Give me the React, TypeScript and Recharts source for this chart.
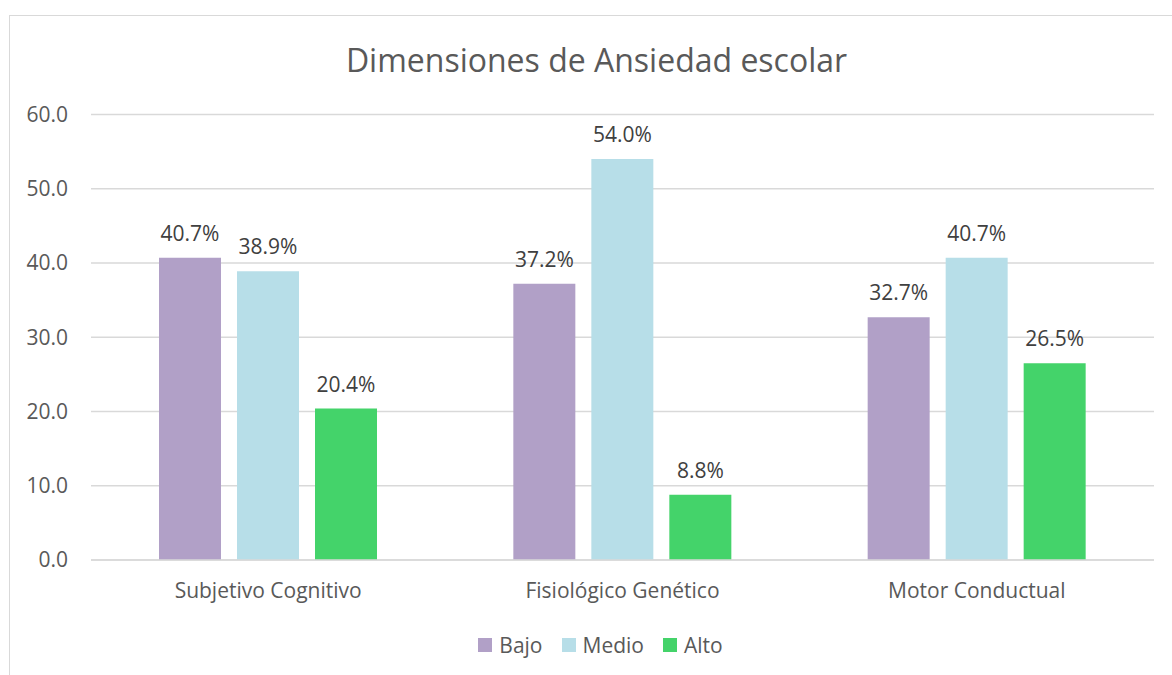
import { Bar, BarChart, CartesianGrid, LabelList, Legend, XAxis, YAxis } from 'recharts'

const categories = ['Subjetivo Cognitivo', 'Fisiológico Genético', 'Motor Conductual']
const bajo = [40.7, 37.2, 32.7]
const medio = [38.9, 54.0, 40.7]
const alto = [20.4, 8.8, 26.5]
const yTicks = [0, 10, 20, 30, 40, 50, 60]

const series = [
  { key: 'bajo', name: 'Bajo', color: '#b1a0c7' },
  { key: 'medio', name: 'Medio', color: '#b7dee8' },
  { key: 'alto', name: 'Alto', color: '#44d36a' },
]

const data = categories.map((name, i) => ({ name, bajo: bajo[i], medio: medio[i], alto: alto[i] }))

const font = '"Open Sans", sans-serif'
const textColor = '#595959'

// keep the legend in series order (recharts sorts by name otherwise)
function LegendContent() {
  return (
    <div style={{ display: 'flex', justifyContent: 'center', alignItems: 'center', height: 30, gap: 19 }}>
      {series.map((s) => (
        <div key={s.key} style={{ display: 'flex', alignItems: 'center', gap: 7 }}>
          <span style={{ width: 14, height: 14, background: s.color, display: 'inline-block' }} />
          <span style={{ fontFamily: font, fontSize: 21, color: textColor, lineHeight: '30px' }}>{s.name}</span>
        </div>
      ))}
    </div>
  )
}

export default function App() {
  return (
    <div style={{ position: 'fixed', left: 0, top: 0, width: 1172, height: 675, overflow: 'hidden', background: '#fff' }}>
      <div
        style={{
          position: 'absolute',
          left: 9,
          top: 15,
          width: 1200,
          height: 700,
          border: '1.5px solid #d9d9d9',
          boxSizing: 'border-box',
        }}
      />
      <div
        style={{
          position: 'absolute',
          left: 0,
          top: 38,
          width: 1193,
          height: 44,
          lineHeight: '44px',
          textAlign: 'center',
          fontFamily: font,
          fontSize: 32,
          color: textColor,
        }}
      >
        Dimensiones de Ansiedad escolar
      </div>
      <div style={{ position: 'absolute', left: 0, top: 0 }}>
        <BarChart
          width={1172}
          height={675}
          data={data}
          margin={{ top: 114.5, right: 18, bottom: 15, left: 0 }}
          barGap={16}
          barSize={62}
        >
          <CartesianGrid vertical={false} stroke="#d9d9d9" strokeWidth={1.3} />
          <XAxis
            dataKey="name"
            height={70}
            axisLine={{ stroke: '#d9d9d9', strokeWidth: 1.3 }}
            tickLine={false}
            tickSize={0}
            tickMargin={23}
            tick={{ fontFamily: font, fontSize: 21, fill: textColor }}
          />
          <YAxis
            width={91}
            domain={[0, 60]}
            ticks={yTicks}
            axisLine={false}
            tickLine={false}
            tickSize={0}
            tickMargin={23}
            tickFormatter={(v: number) => v.toFixed(1)}
            tick={{ fontFamily: font, fontSize: 21, fill: textColor }}
          />
          <Legend
            verticalAlign="bottom"
            content={<LegendContent />}
            wrapperStyle={{ left: 0, width: 1201, height: 30 }}
          />
          {series.map((s) => (
            <Bar key={s.key} dataKey={s.key} name={s.name} fill={s.color} isAnimationActive={false}>
              <LabelList
                dataKey={s.key}
                position="top"
                offset={17}
                formatter={(v: any) => `${Number(v).toFixed(1)}%`}
                style={{ fontFamily: font, fontSize: 21, fill: '#404040' }}
              />
            </Bar>
          ))}
        </BarChart>
      </div>
    </div>
  )
}
